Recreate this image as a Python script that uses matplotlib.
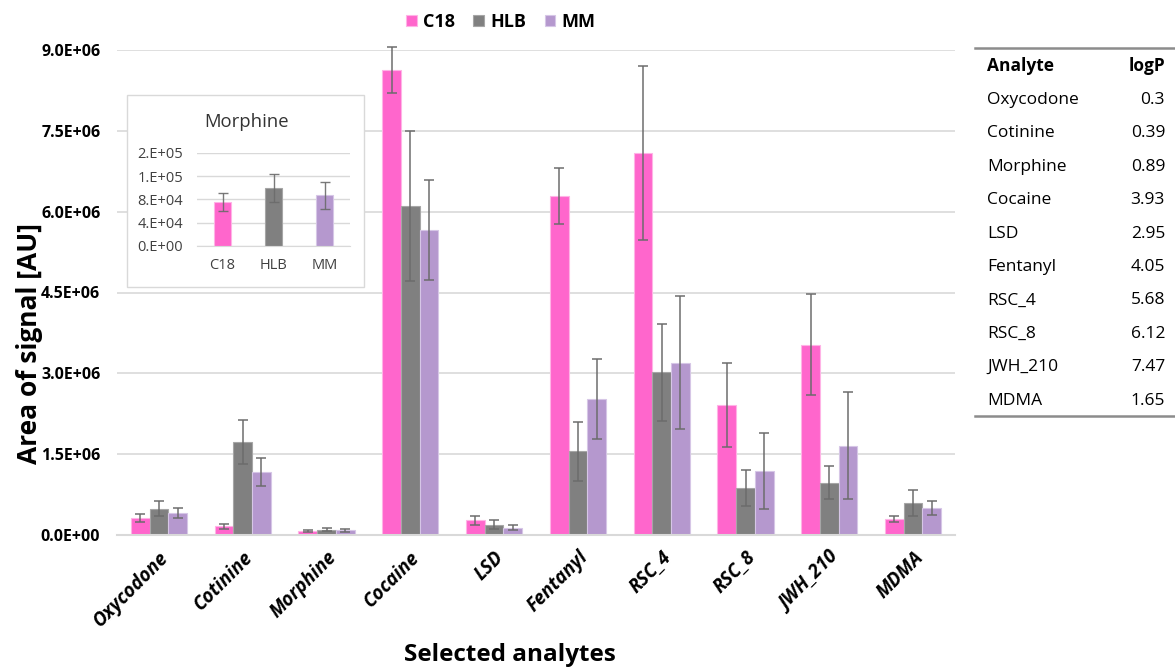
import matplotlib
matplotlib.use("Agg")
import matplotlib.pyplot as plt
import numpy as np
from matplotlib.lines import Line2D
from matplotlib.patches import Rectangle
from matplotlib.ticker import FuncFormatter

plt.rcParams['font.family'] = ['Open Sans', 'DejaVu Sans']

# ---- data ----
analytes = ['Oxycodone', 'Cotinine', 'Morphine', 'Cocaine', 'LSD',
            'Fentanyl', 'RSC_4', 'RSC_8', 'JWH_210', 'MDMA']
series = ['C18', 'HLB', 'MM']
c18 = [0.31e6, 0.163e6, 0.075e6, 8.63e6, 0.27e6, 6.29e6, 7.09e6, 2.41e6, 3.53e6, 0.30e6]
c18_err = [0.075e6, 0.05e6, 0.016e6, 0.42e6, 0.08e6, 0.52e6, 1.62e6, 0.78e6, 0.94e6, 0.06e6]
hlb = [0.486e6, 1.73e6, 0.099e6, 6.11e6, 0.19e6, 1.55e6, 3.02e6, 0.87e6, 0.97e6, 0.59e6]
hlb_err = [0.14e6, 0.41e6, 0.024e6, 1.39e6, 0.08e6, 0.54e6, 0.90e6, 0.33e6, 0.31e6, 0.24e6]
mm = [0.41e6, 1.17e6, 0.087e6, 5.66e6, 0.135e6, 2.52e6, 3.20e6, 1.19e6, 1.66e6, 0.50e6]
mm_err = [0.10e6, 0.26e6, 0.023e6, 0.92e6, 0.05e6, 0.74e6, 1.23e6, 0.71e6, 1.00e6, 0.13e6]

# inset: morphine
morph_vals = [75.2e3, 99.4e3, 87.3e3]
morph_err = [15.6e3, 24.0e3, 22.8e3]
inset_ticks = [0, 4e4, 8e4, 1.2e5, 1.6e5]
inset_ticklabels = ['0.E+00', '4.E+04', '8.E+04', '1.E+05', '2.E+05']

# table of logP
logp = ['0.3', '0.39', '0.89', '3.93', '2.95', '4.05', '5.68', '6.12', '7.47', '1.65']

colors = ['#FF66CC', '#808080', '#B598CE']
edges = ['#FFB3E6', '#A6A6A6', '#D6C6E6']
err_color = '#6B6B6B'
grid_color = '#D9D9D9'

W, H = 1175, 669
fig = plt.figure(figsize=(W / 100, H / 100), dpi=100)
fig.patch.set_facecolor('white')

# ---- main axes ----
ax = fig.add_axes((117 / W, 1 - 535 / H, 838 / W, 485 / H))
x = np.arange(len(analytes))
w = 0.223
vals = [c18, hlb, mm]
errs = [c18_err, hlb_err, mm_err]
handles = []
for i, (v, e) in enumerate(zip(vals, errs)):
    pos = x + (i - 1) * w
    b = ax.bar(pos, v, width=w, color=colors[i], edgecolor=edges[i],
               linewidth=0.8, label=series[i], zorder=2)
    eb = ax.errorbar(pos, v, yerr=e, fmt='none', ecolor=err_color, elinewidth=1.2,
                     capsize=3.5, capthick=1.2, zorder=3, alpha=0.9)
    for art in eb.lines[1] + eb.lines[2]:
        art.set_clip_on(False)
    handles.append(b)

ax.set_xlim(-0.5, len(analytes) - 0.5)
ax.set_ylim(0, 9e6)
ax.set_yticks(np.arange(0, 9.01e6, 1.5e6))
ax.yaxis.set_major_formatter(FuncFormatter(lambda v, p: '{:.1E}'.format(v)))
ax.grid(axis='y', color=grid_color, linewidth=1.2, zorder=0)
ax.set_axisbelow(True)
for s in ['top', 'right', 'left']:
    ax.spines[s].set_visible(False)
ax.spines['bottom'].set_color(grid_color)
ax.spines['bottom'].set_linewidth(1.5)
ax.tick_params(axis='both', length=0)
ax.tick_params(axis='y', pad=12)
for lab in ax.get_yticklabels():
    lab.set_fontweight('bold')
    lab.set_fontsize(11.5)
ax.set_xticks(x)
ax.set_xticklabels(analytes, rotation=45, ha='right', rotation_mode='anchor',
                   fontsize=13.5, fontweight='bold', fontstyle='italic')
ax.tick_params(axis='x', pad=9)

fig.text(30 / W, 1 - 343 / H, 'Area of signal [AU]', rotation=90,
         ha='center', va='center', fontsize=19, fontweight='bold')
fig.text(510 / W, 1 - 655 / H, 'Selected analytes', ha='center', va='center',
         fontsize=17.5, fontweight='bold')

fig.legend(handles=handles, labels=series, loc='center',
           bbox_to_anchor=(501 / W, 1 - 22 / H), ncol=3, frameon=False,
           handlelength=0.6, handleheight=0.6, handletextpad=0.35,
           columnspacing=1.0, prop={'weight': 'bold', 'size': 13})

# ---- inset (morphine) ----
fig.add_artist(Rectangle((127 / W, 1 - 287 / H), 237 / W, 192 / H,
                         transform=fig.transFigure, facecolor='white',
                         edgecolor=grid_color, linewidth=1.0, zorder=5))
iax = fig.add_axes((197 / W, 1 - 246 / H, 153 / W, 93 / H), zorder=6)
iax.patch.set_alpha(0)
ix = np.arange(len(series))
iax.bar(ix, morph_vals, width=0.35, color=colors, edgecolor=edges,
        linewidth=0.8, zorder=2)
iax.errorbar(ix, morph_vals, yerr=morph_err, fmt='none', ecolor=err_color,
             elinewidth=1.0, capsize=3.5, capthick=1.0, zorder=3, alpha=0.9)
iax.set_xlim(-0.5, 2.5)
iax.set_ylim(0, 1.6e5)
iax.set_yticks(inset_ticks)
iax.set_yticklabels(inset_ticklabels)
iax.set_xticks(ix)
iax.set_xticklabels(series)
iax.grid(axis='y', color=grid_color, linewidth=1.0, zorder=0)
iax.set_axisbelow(True)
for s in ['top', 'right', 'left']:
    iax.spines[s].set_visible(False)
iax.spines['bottom'].set_color(grid_color)
iax.tick_params(axis='both', length=0, labelsize=10.5, labelcolor='#404040')
iax.tick_params(axis='y', pad=10)
iax.tick_params(axis='x', pad=9)
fig.text(247 / W, 1 - 122 / H, 'Morphine', ha='center', va='center',
         fontsize=13.3, color='#333333', zorder=7)

# ---- logP table ----
line_kw = dict(color='#8C8C8C', linewidth=1.8, transform=fig.transFigure)
fig.add_artist(Line2D([975 / W, 1], [1 - 48 / H, 1 - 48 / H], **line_kw))
fig.add_artist(Line2D([975 / W, 1], [1 - 416 / H, 1 - 416 / H], **line_kw))
fig.text(987 / W, 1 - 66 / H, 'Analyte', ha='left', va='center',
         fontsize=12.5, fontweight='bold')
fig.text(1165 / W, 1 - 66 / H, 'logP', ha='right', va='center',
         fontsize=12.5, fontweight='bold')
for i, (name, lp) in enumerate(zip(analytes, logp)):
    yy = 1 - (100 + 33.4 * i) / H
    fig.text(987 / W, yy, name, ha='left', va='center', fontsize=12.5)
    fig.text(1165 / W, yy, lp, ha='right', va='center', fontsize=12.5)

fig.savefig('out.png', dpi=100, facecolor='white')
